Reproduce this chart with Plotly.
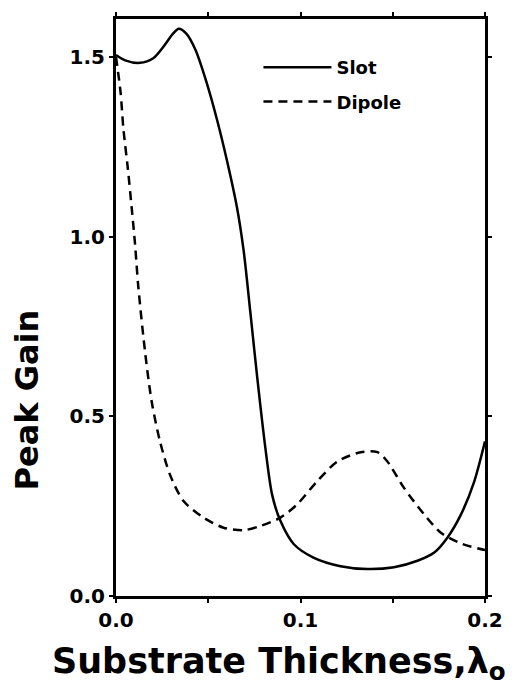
import plotly.graph_objects as go

# Data
slot_x = [0, 0.005, 0.013, 0.020, 0.026, 0.031, 0.034, 0.038, 0.043, 0.049, 0.055,
          0.0602, 0.0656, 0.0692, 0.0728, 0.0765, 0.081, 0.0846, 0.0891,
          0.0964, 0.107, 0.1217, 0.1362, 0.1507, 0.1634, 0.1725, 0.1797, 0.187,
          0.1942, 0.2]
slot_y = [1.505, 1.49, 1.483, 1.495, 1.53, 1.565, 1.578, 1.565, 1.52, 1.43, 1.32,
          1.21, 1.08, 0.96, 0.79, 0.61, 0.41, 0.282, 0.209,
          0.144, 0.107, 0.083, 0.075, 0.080, 0.098, 0.121, 0.163, 0.227,
          0.319, 0.43]

dipole_x = [0, 0.0025, 0.004, 0.0064, 0.0085, 0.0103, 0.0121, 0.0158, 0.0194,
            0.0239, 0.0293, 0.0366, 0.0475, 0.0583, 0.0692, 0.0783, 0.0891,
            0.0982, 0.109, 0.12, 0.1326, 0.1417, 0.1471, 0.1562, 0.167, 0.1761,
            0.187, 0.2]
dipole_y = [1.5, 1.40, 1.30, 1.19, 1.08, 0.98, 0.86, 0.677, 0.539,
            0.429, 0.337, 0.264, 0.218, 0.190, 0.183, 0.195, 0.218,
            0.255, 0.319, 0.374, 0.40, 0.40, 0.374, 0.30, 0.227, 0.176,
            0.146, 0.128]

x_tickvals = [0, 0.05, 0.1, 0.15, 0.2]
x_ticktext = ["0.0", "", "0.1", "", "0.2"]
y_tickvals = [0, 0.5, 1.0, 1.5]
y_ticktext = ["0.0", "0.5", "1.0", "1.5"]

FONT = "DejaVu Sans"

fig = go.Figure()
fig.add_trace(go.Scatter(
    x=slot_x, y=slot_y, mode="lines", name="Slot", legendgroup="a",
    line=dict(color="black", width=2.5, shape="spline", smoothing=0.8),
))
fig.add_trace(go.Scatter(
    x=dipole_x, y=dipole_y, mode="lines", name="Dipole", legendgroup="b",
    line=dict(color="black", width=2.5, dash="9px,6px", shape="spline", smoothing=0.8),
))

axis_common = dict(
    showline=True, linecolor="black", linewidth=3, mirror="ticks",
    ticks="outside", ticklen=4, tickwidth=2, tickcolor="black",
    showgrid=False, zeroline=False,
    tickfont=dict(family=FONT, size=20, color="black", weight="bold"),
)

fig.update_xaxes(range=[0, 0.2], tickvals=x_tickvals, ticktext=x_ticktext, **axis_common)
fig.update_yaxes(range=[0, 1.605], tickvals=y_tickvals, ticktext=y_ticktext, **axis_common)

fig.update_layout(
    width=517, height=697,
    margin=dict(l=116, r=32, t=13, b=101),
    paper_bgcolor="white", plot_bgcolor="white",
    showlegend=True,
    legend=dict(
        x=0.386, y=0.948, xanchor="left", yanchor="top",
        bgcolor="rgba(0,0,0,0)", itemwidth=68,
        traceorder="grouped", tracegroupgap=8,
        font=dict(family=FONT, size=18, color="black", weight="bold"),
    ),
    annotations=[
        dict(text="Peak Gain", textangle=-90, x=-0.241, y=0.339,
             xref="paper", yref="paper", xanchor="center", yanchor="middle",
             showarrow=False,
             font=dict(family=FONT, size=32, color="black", weight="bold")),
        dict(text="Substrate Thickness,λ<sub>o</sub>", x=0.443, y=-0.074,
             xref="paper", yref="paper", xanchor="center", yanchor="top",
             showarrow=False,
             font=dict(family=FONT, size=35, color="black", weight="bold")),
    ],
)

fig.write_html("out.html")
